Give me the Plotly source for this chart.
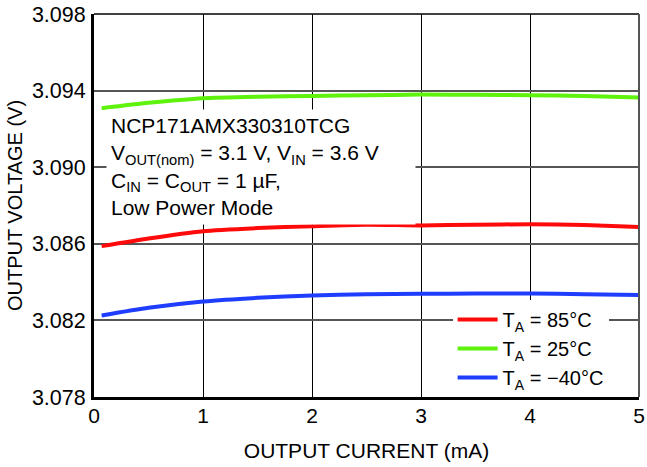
import plotly.graph_objects as go

# output current (mA)
current = [0.07, 0.5, 1.0, 1.5, 2.0, 2.5, 3.0, 3.5, 4.0, 4.5, 5.0]

# output voltage (V) per ambient temperature
v_85 = [3.08588, 3.08628, 3.08666, 3.08682, 3.08692, 3.08700, 3.08696, 3.08700, 3.08702, 3.08698, 3.08688]
v_25 = [3.09308, 3.09336, 3.09360, 3.09368, 3.09372, 3.09376, 3.09379, 3.09378, 3.09376, 3.09372, 3.09364]
v_m40 = [3.08226, 3.08266, 3.08299, 3.08318, 3.08330, 3.08337, 3.08339, 3.08340, 3.08340, 3.08337, 3.08333]

series = [
    ("T<sub>A</sub> = 85°C", v_85, "#ff0a0a"),
    ("T<sub>A</sub> = 25°C", v_25, "#5ef20c"),
    ("T<sub>A</sub> = −40°C", v_m40, "#1f3dff"),
]

FONT = "Liberation Sans, Arial, sans-serif"

fig = go.Figure()
for name, ys, col in series:
    fig.add_trace(go.Scatter(
        x=current, y=ys, name=name, mode="lines",
        line=dict(color=col, width=4, shape="spline", smoothing=0.6),
    ))

fig.update_layout(
    width=647, height=467,
    margin=dict(l=94, r=8, t=14, b=70),
    paper_bgcolor="white", plot_bgcolor="white",
    font=dict(family=FONT, size=21, color="black"),
    showlegend=True,
    legend=dict(
        x=0.658, y=0.253, xanchor="left", yanchor="top",
        bgcolor="white", borderwidth=0,
        font=dict(size=20), tracegroupgap=0,
        itemwidth=40,
    ),
)

fig.update_xaxes(
    range=[0, 5], dtick=1, tick0=0, automargin=False,
    showgrid=True, gridcolor="black", gridwidth=1.3,
    showline=True, linecolor="black", linewidth=3,
    ticks="", zeroline=False, tickfont=dict(size=21), ticklabelstandoff=-2,
    ticklabeloverflow="allow",
    title=dict(text="OUTPUT CURRENT (mA)", standoff=18, font=dict(size=21)),
)
fig.update_yaxes(
    range=[3.078, 3.098], dtick=0.004, tick0=3.078, tickformat=".3f",
    automargin=False,
    showgrid=True, gridcolor="#555555", gridwidth=1.6,
    showline=True, linecolor="black", linewidth=3,
    ticks="", zeroline=False, ticklabelstandoff=1, tickfont=dict(size=21.5),
    ticklabeloverflow="allow",
    title=dict(text="OUTPUT VOLTAGE (V)", standoff=4, font=dict(size=20)),
)

# top and right frame edges
fig.add_shape(type="line", xref="paper", yref="paper", x0=0, x1=1, y0=1, y1=1,
              line=dict(color="black", width=1.5))
fig.add_shape(type="line", xref="paper", yref="paper", x0=1, x1=1, y0=0, y1=1,
              line=dict(color="#555555", width=2))

fig.add_annotation(
    xref="paper", yref="paper", x=0.022, y=0.752, xanchor="left", yanchor="top",
    align="left", valign="top", showarrow=False, bgcolor="white", borderpad=4,
    width=300, height=106,
    text=("NCP171AMX330310TCG<br>"
          "V<sub>OUT(nom)</sub> = 3.1 V, V<sub>IN</sub> = 3.6 V<br>"
          "C<sub>IN</sub> = C<sub>OUT</sub> = 1 µF,<br>"
          "Low Power Mode"),
    font=dict(size=21),
)

# the page body has an 8px default margin; remove it so the figure fills the window
fig.write_html("out.html", config={"displayModeBar": False},
               post_script="document.body.style.margin='0';document.body.style.overflow='hidden';")
